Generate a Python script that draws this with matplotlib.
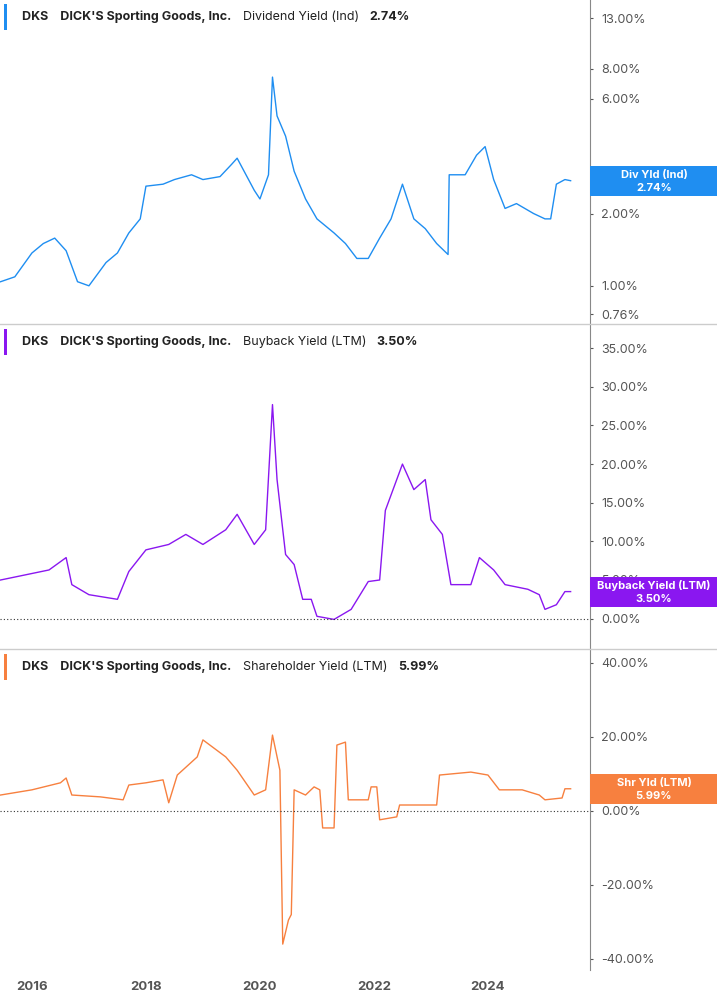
import matplotlib
matplotlib.use("Agg")
import matplotlib.pyplot as plt
from matplotlib.patches import Rectangle
import matplotlib.ticker as mt

div_t = [2015.45,2015.7,2016.0,2016.2,2016.4,2016.6,2016.8,2017.0,2017.3,2017.5,2017.7,2017.9,2018.0,2018.3,2018.5,2018.8,2019.0,2019.3,2019.5,2019.6,2019.9,2020.0,2020.15,2020.22,2020.3,2020.45,2020.6,2020.8,2021.0,2021.3,2021.5,2021.7,2021.9,2022.1,2022.3,2022.5,2022.7,2022.9,2023.1,2023.3,2023.32,2023.6,2023.8,2023.95,2024.1,2024.3,2024.5,2024.8,2025.0,2025.1,2025.2,2025.35,2025.45]
div_v = [1.04,1.09,1.37,1.5,1.58,1.4,1.04,1.0,1.25,1.37,1.66,1.9,2.6,2.65,2.77,2.9,2.77,2.85,3.2,3.4,2.5,2.3,2.9,7.4,5.1,4.2,3.0,2.3,1.9,1.66,1.5,1.3,1.3,1.58,1.9,2.65,1.9,1.73,1.5,1.35,2.9,2.9,3.5,3.8,2.77,2.1,2.2,2.0,1.9,1.9,2.65,2.77,2.74]

bb_t = [2015.45,2016.3,2016.6,2016.7,2017.0,2017.5,2017.7,2018.0,2018.4,2018.7,2019.0,2019.4,2019.6,2019.9,2020.1,2020.22,2020.3,2020.45,2020.6,2020.75,2020.9,2021.0,2021.3,2021.6,2021.9,2022.1,2022.2,2022.4,2022.5,2022.7,2022.9,2023.0,2023.2,2023.35,2023.7,2023.85,2024.1,2024.3,2024.7,2024.9,2025.0,2025.2,2025.35,2025.45]
bb_v = [5.0,6.3,7.9,4.4,3.1,2.5,6.1,8.9,9.6,10.9,9.6,11.5,13.5,9.6,11.5,27.7,18.0,8.3,7.0,2.5,2.5,0.3,-0.1,1.2,4.8,5.0,14.0,18.0,20.0,16.7,18.0,12.8,10.9,4.4,4.4,7.9,6.3,4.4,3.8,3.1,1.2,1.8,3.5,3.5]

sh_t = [2015.45,2016.0,2016.5,2016.6,2016.7,2017.2,2017.6,2017.7,2018.0,2018.3,2018.4,2018.55,2018.9,2019.0,2019.4,2019.6,2019.9,2020.1,2020.22,2020.35,2020.4,2020.5,2020.55,2020.6,2020.8,2020.95,2021.05,2021.1,2021.3,2021.35,2021.5,2021.55,2021.9,2021.95,2022.05,2022.1,2022.4,2022.45,2023.1,2023.15,2023.7,2024.0,2024.2,2024.6,2024.9,2025.0,2025.3,2025.35,2025.45]
sh_v = [4.3,5.7,7.6,8.9,4.3,3.8,3.0,7.0,7.6,8.4,2.2,9.7,14.6,19.2,14.6,11.0,4.3,5.7,20.5,11.0,-36.0,-29.5,-28.0,5.7,4.3,6.5,5.7,-4.6,-4.6,17.8,18.6,3.0,3.0,6.5,6.5,-2.4,-1.6,1.6,1.6,9.7,10.5,9.7,5.7,5.7,4.3,3.0,3.5,5.99,5.99]

year_ticks = [2016, 2018, 2020, 2022, 2024]
div_ticks = [0.76, 1, 2, 3, 6, 8, 13]
bb_ticks = [0, 5, 10, 15, 20, 25, 30, 35]
sh_ticks = [-40, -20, 0, 20, 40]

W, H = 717, 1005
fig = plt.figure(figsize=(W/100, H/100), dpi=100)
plt.rcParams['font.family'] = 'Inter'
XL = (2015.44, 2025.79)
GRAY = '#555555'

def mk(top, bot):
    return fig.add_axes([0, 1-bot/H, 590/W, (bot-top)/H])

panels = [
    (0, 323, div_t, div_v, '#1f8ef1', 'Dividend Yield (Ind)', '2.74%', 'Div Yld (Ind)', 2.74, div_ticks, (0.70, 15.5), True),
    (325, 648, bb_t, bb_v, '#8a17f0', 'Buyback Yield (LTM)', '3.50%', 'Buyback Yield (LTM)', 3.5, bb_ticks, (-3.8, 38.0), False),
    (650, 970, sh_t, sh_v, '#f7803f', 'Shareholder Yield (LTM)', '5.99%', 'Shr Yld (LTM)', 5.99, sh_ticks, (-43.0, 43.5), False),
]
axes = []
for i, (top, bot, t, v, col, name, val, tag, last, ticks, yl, lg) in enumerate(panels):
    ax = mk(top, bot)
    axes.append(ax)
    ax.plot(t, v, color=col, lw=1.0)
    if lg:
        ax.set_yscale('log')
        ax.yaxis.set_minor_locator(mt.NullLocator())
    else:
        ax.axhline(0, color='#333333', lw=0.8, ls=(0, (1, 2)))
    ax.set_ylim(*yl)
    ax.set_xlim(*XL)
    ax.set_yticks(ticks)
    ax.set_yticklabels([f'{x:.2f}%' for x in ticks])
    ax.yaxis.tick_right()
    ax.tick_params(axis='y', colors=GRAY, labelcolor=GRAY, labelsize=9, length=2, pad=6)
    for s in ['top', 'left', 'bottom']:
        ax.spines[s].set_visible(False)
    ax.spines['right'].set_color('#888888')
    ax.set_xticks(year_ticks)
    if i < 2:
        ax.tick_params(axis='x', bottom=False, labelbottom=False)
    else:
        ax.set_xticklabels([str(y) for y in year_ticks])
        ax.tick_params(axis='x', colors=GRAY, labelcolor=GRAY, labelsize=9.5, length=0, pad=8)
        for lb in ax.get_xticklabels():
            lb.set_fontweight('bold')
    # legend box
    fy = 1 - (top + 17)/H
    txt = fig.text(22/W, fy, 'DKS    DICK\'S Sporting Goods, Inc.', fontsize=9, fontweight='bold',
                   color='#222222', va='center')
    fig.canvas.draw()
    bb = txt.get_window_extent()
    t2 = fig.text((bb.x1 + 12)/W, fy, name, fontsize=9, color='#222222', va='center')
    b2 = t2.get_window_extent()
    t3 = fig.text((b2.x1 + 10)/W, fy, val, fontsize=9, fontweight='bold', color='#222222', va='center')
    b3 = t3.get_window_extent()
    fig.patches.append(Rectangle((4/W, 1-(top+30)/H), (b3.x1 + 10 - 4)/W, 26/H, transform=fig.transFigure,
                                 facecolor='white', edgecolor='#e4e4e4', lw=0.8, zorder=-1))
    fig.patches.append(Rectangle((4/W, 1-(top+30)/H), 3/W, 26/H, transform=fig.transFigure,
                                 facecolor=col, edgecolor='none'))
    # value tag
    yd = ax.transData.transform((XL[1], last))[1]
    fig.patches.append(Rectangle((590/W, (yd-15)/H), 127/W, 30/H, transform=fig.transFigure,
                                 facecolor=col, edgecolor='none', zorder=5))
    fig.text(654/W, (yd+6)/H, tag, fontsize=8, fontweight='bold', color='white', ha='center', va='center', zorder=6)
    fig.text(654/W, (yd-7)/H, f'{last:.2f}%', fontsize=8, fontweight='bold', color='white', ha='center', va='center', zorder=6)

for y in [324, 649]:
    fig.add_artist(plt.Line2D([0, 1], [1-y/H, 1-y/H], color='#cccccc', lw=1))

fig.savefig('out.png', dpi=100)
